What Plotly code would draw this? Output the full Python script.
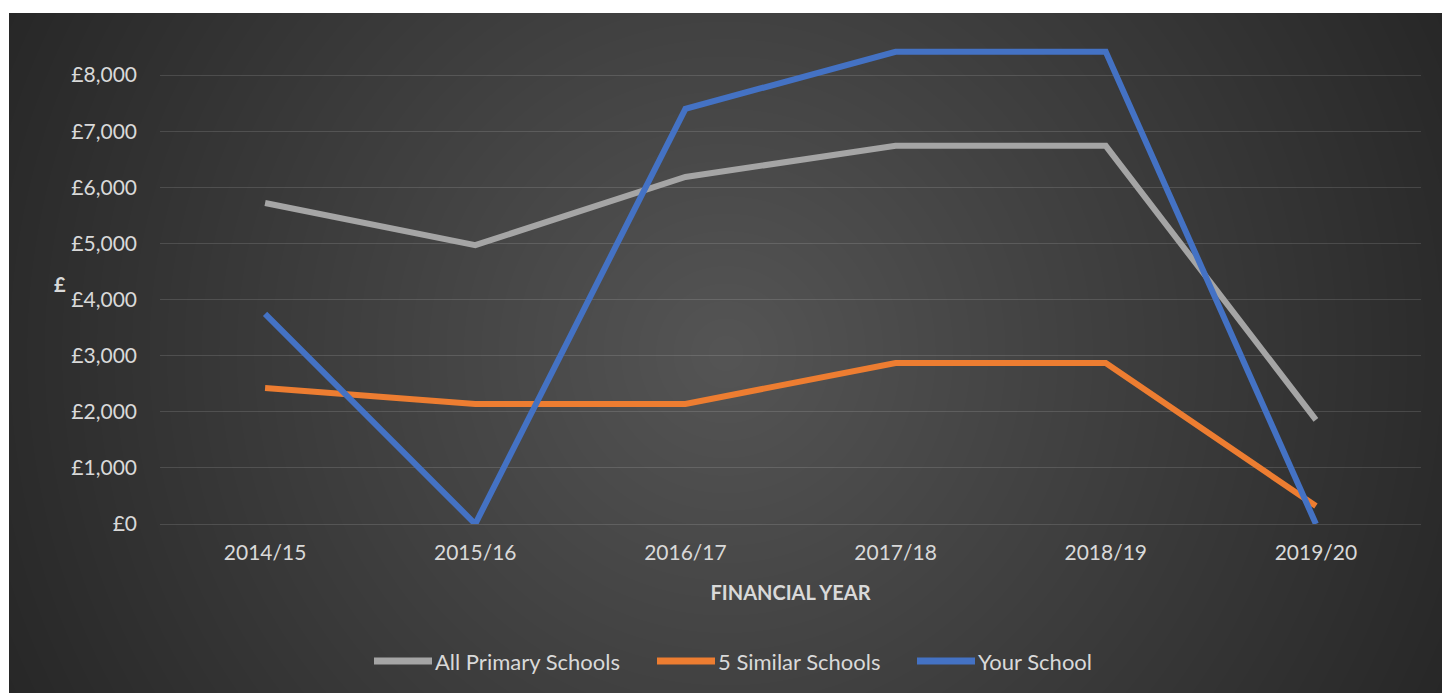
import base64
import struct
import zlib

import numpy as np
import plotly.graph_objects as go

years = ["2014/15", "2015/16", "2016/17", "2017/18", "2018/19", "2019/20"]
all_primary = [5720, 4970, 6185, 6740, 6740, 1855]
similar_five = [2425, 2140, 2140, 2870, 2870, 320]
your_school = [3745, 0, 7400, 8415, 8415, 0]
y_ticks = [0, 1000, 2000, 3000, 4000, 5000, 6000, 7000, 8000]
y_tick_labels = ["£0", "£1,000", "£2,000", "£3,000", "£4,000", "£5,000", "£6,000", "£7,000", "£8,000"]

W, H = 1442, 693
ML, MR, MT, MB = 160, 21, 19, 169
TXT = "#d9d9d9"
FONT = "Lato"


def gray_png(arr):
    """encode a 2d uint8 array as a greyscale png data uri"""
    h, w = arr.shape
    raw = b"".join(b"\x00" + arr[i].tobytes() for i in range(h))

    def chunk(tag, data):
        c = struct.pack(">I", len(data)) + tag + data
        return c + struct.pack(">I", zlib.crc32(tag + data) & 0xffffffff)

    png = b"\x89PNG\r\n\x1a\n"
    png += chunk(b"IHDR", struct.pack(">IIBBBBB", w, h, 8, 0, 0, 0, 0))
    png += chunk(b"IDAT", zlib.compress(raw, 9))
    png += chunk(b"IEND", b"")
    return "data:image/png;base64," + base64.b64encode(png).decode()


# dark radial background of the chart area (starts a little in from the top/left)
bx0, by0 = 9, 13
bw, bh = W - bx0, H - by0
yy, xx = np.mgrid[0:bh, 0:bw]
dist = np.hypot(xx - bw / 2, yy - bh / 2)
shade = np.clip(85 - 45 * dist / 786, 36, 90).astype(np.uint8)
bg_uri = gray_png(shade)

pw, ph = W - ML - MR, H - MT - MB


def px_x(p):
    return (p - ML) / pw


def px_y(p):
    return (H - MB - p) / ph


series = [
    ("All Primary Schools", all_primary, "#a5a5a5"),
    ("5 Similar Schools", similar_five, "#ed7d31"),
    ("Your School", your_school, "#4472c4"),
]

fig = go.Figure()
for name, vals, col in series:
    fig.add_trace(go.Scatter(x=years, y=vals, mode="lines", name=name,
                             line=dict(color=col, width=6)))

fig.add_layout_image(dict(source=bg_uri, xref="paper", yref="paper",
                          x=px_x(bx0), y=px_y(by0), sizex=bw / pw, sizey=bh / ph,
                          xanchor="left", yanchor="top", sizing="stretch", layer="below"))

fig.add_annotation(text="<b>£</b>", xref="paper", yref="paper", x=px_x(52), y=px_y(284),
                   showarrow=False, font=dict(family=FONT, size=20, color=TXT))

# legend drawn by hand so the long line samples match
legend_x = [374, 657, 917]
for (name, vals, col), lx in zip(series, legend_x):
    fig.add_shape(type="line", xref="paper", yref="paper",
                  x0=px_x(lx), x1=px_x(lx + 58), y0=px_y(661), y1=px_y(661),
                  line=dict(color=col, width=7))
    fig.add_annotation(text=name, xref="paper", yref="paper", x=px_x(lx + 59), y=px_y(661),
                       xanchor="left", yanchor="middle", showarrow=False,
                       font=dict(family=FONT, size=22, color=TXT))

fig.update_layout(
    width=W, height=H,
    margin=dict(l=ML, r=MR, t=MT, b=MB),
    paper_bgcolor="white",
    plot_bgcolor="rgba(0,0,0,0)",
    font=dict(family=FONT, size=21, color=TXT),
    showlegend=False,
)
fig.update_xaxes(type="category", range=[-0.5, 5.5], showgrid=False, showline=False,
                 ticks="", ticklabelstandoff=14,
                 title=dict(text="<b>FINANCIAL YEAR</b>", standoff=22,
                            font=dict(family=FONT, size=20, color=TXT)))
fig.update_yaxes(range=[0, 9000], tickvals=y_ticks, ticktext=y_tick_labels,
                 tickfont=dict(family=FONT, size=21, color=TXT),
                 showgrid=True, gridcolor="rgba(255,255,255,0.13)", gridwidth=1,
                 zeroline=True, zerolinecolor="rgba(255,255,255,0.13)", zerolinewidth=1,
                 showline=False, ticks="", ticklabelstandoff=22)

fig.write_html("out.html", config={"displayModeBar": False},
               post_script="document.body.style.margin='0';")
